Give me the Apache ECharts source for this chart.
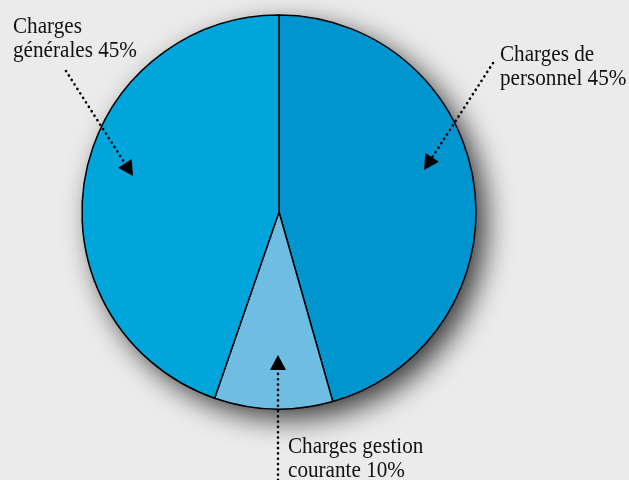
<!DOCTYPE html>
<html><head><meta charset="utf-8">
<script src="https://cdn.jsdelivr.net/npm/echarts@6/dist/echarts.min.js"></script>
<style>html,body{margin:0;padding:0;background:#ebebeb}#c{width:629px;height:480px}</style>
</head><body><div id="c"></div>
<script>
const categories = ['Charges de personnel', 'Charges gestion courante', 'Charges générales'];
const values = [45.6, 9.7, 44.7];
const labelTexts = ['Charges de\npersonnel 45%', 'Charges gestion\ncourante 10%', 'Charges\ngénérales 45%'];
const colors = ['#0095cf', '#6fbde3', '#00a6db'];

const chart = echarts.init(document.getElementById('c'));
const font = {fontFamily: 'Liberation Serif', fontSize: 23, fill: '#111', lineHeight: 24};
function arrow(x1, y1, x2, y2) {
  const ang = Math.atan2(y2 - y1, x2 - x1);
  const L = 15, W = 8;
  const bx = x2 - L * Math.cos(ang), by = y2 - L * Math.sin(ang);
  const px = -Math.sin(ang) * W, py = Math.cos(ang) * W;
  return [
    {type: 'line', shape: {x1: x1, y1: y1, x2: bx, y2: by}, style: {stroke: '#000', lineWidth: 2.6, lineDash: [0.1, 5.2], lineCap: 'round'}, z: 10},
    {type: 'polygon', shape: {points: [[x2, y2], [bx + px, by + py], [bx - px, by - py]]}, style: {fill: '#000'}, z: 10}
  ];
}
function label(text, x, y) {
  return {type: 'text', x: x, y: y, scaleX: 0.92, scaleY: 1, style: Object.assign({text: text}, font), z: 10};
}
chart.setOption({
  backgroundColor: '#ebebeb',
  animation: false,
  series: [
    {type: 'pie', center: [279, 212], radius: 197, silent: true, label: {show: false}, z: 1,
     data: [{value: 1, name: 'shadow', itemStyle: {color: '#0095cf', shadowBlur: 28, shadowColor: 'rgba(0,0,0,0.75)', shadowOffsetX: 10, shadowOffsetY: 10}}]},
    {type: 'pie', center: [279, 212], radius: 197, startAngle: 90, clockwise: true, z: 2,
     label: {show: false}, labelLine: {show: false},
     itemStyle: {borderColor: '#000', borderWidth: 1.5},
     data: categories.map((c, i) => ({name: c, value: values[i], itemStyle: {color: colors[i]}}))}
  ],
  graphic: [
    label(labelTexts[2], 13, 15),
    label(labelTexts[0], 500, 43),
    label(labelTexts[1], 288, 435),
    ...arrow(66, 71, 133, 176),
    ...arrow(493, 63, 424, 170),
    ...arrow(278, 480, 278, 355)
  ]
});
</script></body></html>
